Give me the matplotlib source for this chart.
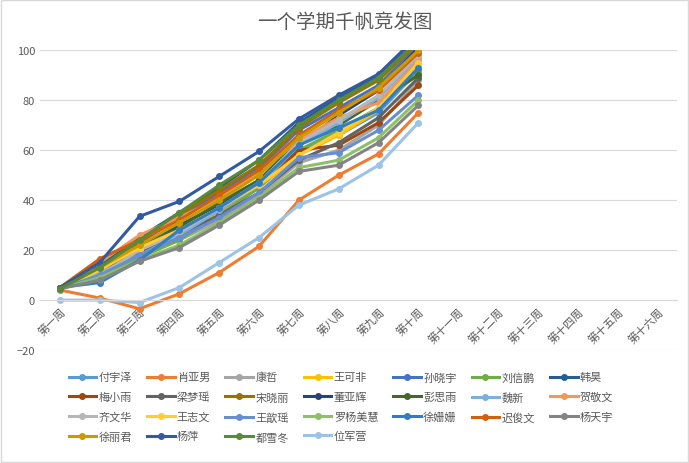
import matplotlib.pyplot as plt

plt.rcParams['font.family'] = ['Noto Sans CJK SC', 'DejaVu Sans']

weeks = ["第一周", "第二周", "第三周", "第四周", "第五周", "第六周", "第七周", "第八周",
         "第九周", "第十周", "第十一周", "第十二周", "第十三周", "第十四周", "第十五周", "第十六周"]

names = ["付宇泽", "肖亚男", "康哲", "王可非", "孙晓宇", "刘信鹏", "韩昊",
         "梅小雨", "梁梦瑶", "宋晓丽", "董亚辉", "彭思雨", "魏新", "贺敬文",
         "齐文华", "王志文", "王歆瑶", "罗杨美慧", "徐姗姗", "迟俊文", "杨天宇",
         "徐丽君", "杨萍", "都雪冬", "位军营"]

scores = [
    [4.5, 11, 19, 26, 35, 45, 60, 66, 75, 92],        # 付宇泽
    [4, 0.8, -3.5, 2.5, 11, 21.5, 40, 50, 58.5, 75],  # 肖亚男
    [4.5, 9, 18, 24, 32, 42, 55, 60, 70, 88],         # 康哲
    [4.5, 10, 17, 25, 35, 45, 58, 66, 76, 94],        # 王可非
    [4.5, 14, 23, 33, 43, 53, 68, 77, 86, 102],       # 孙晓宇
    [4.5, 9, 17, 24, 34, 45, 60, 68, 77, 91],         # 刘信鹏
    [5, 14, 25, 35, 45, 56, 71, 81, 90, 105],         # 韩昊
    [5, 12, 20, 27, 36, 46, 60, 62, 71, 86],          # 梅小雨
    [5, 10, 19, 26, 34, 43, 56, 63, 73, 89],          # 梁梦瑶
    [5, 12, 23, 34, 44, 54, 69, 79, 88, 103],         # 宋晓丽
    [5, 13, 22, 30, 38, 48, 62, 74, 84, 101],         # 董亚辉
    [5, 11, 21, 29, 39, 48, 64, 70, 80, 90],          # 彭思雨
    [4.5, 11, 18, 26, 36, 46, 62, 71, 81, 97],        # 魏新
    [4.5, 15, 26, 33, 41, 51, 64, 73, 79, 96],        # 贺敬文
    [4.5, 10, 20, 27, 37, 47, 63, 72, 82, 98],        # 齐文华
    [4.5, 12, 21, 28, 37, 46, 58, 67, 77, 95],        # 王志文
    [4.5, 10, 18, 25, 33, 43, 57, 59, 68, 82],        # 王歆瑶
    [4.5, 9, 16, 22, 31, 41, 53, 56, 65, 80],         # 罗杨美慧
    [5, 7, 16, 28, 37, 47, 62, 69, 76, 93],           # 徐姗姗
    [5, 16.5, 24, 32, 42, 52, 66, 76, 84, 99],        # 迟俊文
    [4.5, 8, 15.5, 21, 30, 40, 51.5, 54, 63, 78],     # 杨天宇
    [5, 13, 22, 31, 40, 50, 65, 75, 85, 100],         # 徐丽君
    [5, 15, 33.5, 39.5, 49.5, 59.5, 72.5, 82, 90.5, 106],  # 杨萍
    [4.5, 13, 24, 35, 46, 56, 70, 80, 89, 104],       # 都雪冬
    [0, 0, -1, 5, 15, 25, 38, 44.5, 54, 71],          # 位军营
]

colors = ["#5B9BD5", "#ED7D31", "#A5A5A5", "#FFC000", "#4472C4", "#70AD47", "#255E91",
          "#9E480E", "#636363", "#997300", "#264478", "#43682B", "#7CAFDD", "#F1975A",
          "#B7B7B7", "#FFCD33", "#698ED0", "#8CC168", "#327DC2", "#D26012", "#848484",
          "#CC9A00", "#335AA1", "#5A8A39", "#9DC3E6"]

fig = plt.figure(figsize=(6.89, 4.64), dpi=100)
ax = fig.add_axes([0.058, 0.2435, 0.925, 0.646])

lines = []
for name, vals, c in zip(names, scores, colors):
    ln, = ax.plot(range(len(vals)), vals, color=c, lw=2.2, marker="o", ms=4, label=name)
    lines.append(ln)

ax.set_xlim(-0.5, len(weeks) - 0.5)
ax.set_ylim(-20, 100)
ax.set_yticks(range(-20, 101, 20))
ax.set_xticks(range(len(weeks)))
ax.set_xticklabels(weeks)
ax.grid(axis="y", color="#D9D9D9", lw=0.8)
ax.set_axisbelow(True)
for s in ["top", "right", "left"]:
    ax.spines[s].set_visible(False)
ax.spines["bottom"].set_position(("data", 0))
ax.spines["bottom"].set_color("#D9D9D9")
ax.tick_params(axis="both", length=0, labelsize=8, colors="#595959")
ax.tick_params(axis="x", pad=4)
for lab in ax.get_xticklabels():
    lab.set_rotation(45)
    lab.set_ha("right")
    lab.set_va("top")
    lab.set_rotation_mode("anchor")

fig.suptitle("一个学期千帆竞发图", y=0.975, fontsize=14, color="#595959")

# legend reads row by row, matplotlib fills column by column
ncol = 7
order = [j + 7 * r for j in range(ncol) for r in range(4) if j + 7 * r < len(names)]
fig.legend([lines[i] for i in order], [names[i] for i in order],
           loc="upper left", bbox_to_anchor=(0.085, 0.218), ncol=ncol, frameon=False,
           fontsize=8, handlelength=2.5, columnspacing=1.35, labelspacing=0.85,
           handletextpad=0.2, labelcolor="#595959")

fig.patches.append(plt.Rectangle((0.001, 0.002), 0.997, 0.996, transform=fig.transFigure,
                                 fill=False, ec="#D9D9D9", lw=1))

fig.savefig("out.png", dpi=100)
